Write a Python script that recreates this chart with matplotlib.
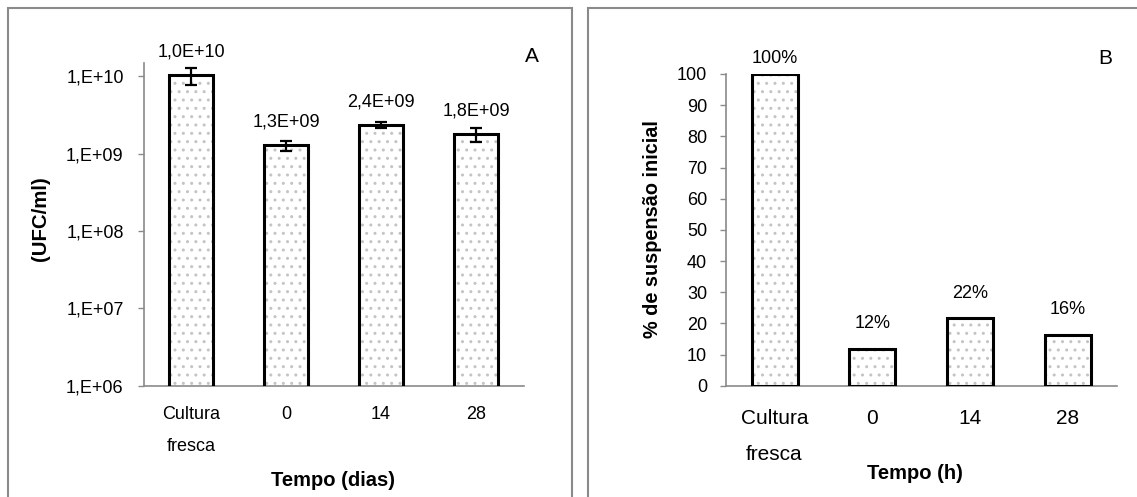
import math
import matplotlib
matplotlib.use("Agg")
import matplotlib.pyplot as plt
from matplotlib.patches import Rectangle
from matplotlib.ticker import FixedLocator, FuncFormatter, NullLocator

plt.rcParams['font.family'] = ['Liberation Sans', 'DejaVu Sans']
plt.rcParams['hatch.linewidth'] = 1.0

# dados
categorias = ["Cultura\nfresca", "0", "14", "28"]
ufc_ml = [1.04e10, 1.28e9, 2.36e9, 1.79e9]
ufc_erro = [2.6e9, 0.18e9, 0.22e9, 0.36e9]
perc_susp = [100, 11.8, 21.6, 16.4]

W, H = 1137, 497
fig = plt.figure(figsize=(W / 100, H / 100), dpi=100)

cinza = "#8a8a8a"
pontos = "#c4c4c4"


def px(x0, y0, x1, y1):
    # converte pixels (origem no canto superior esquerdo) em fração da figura
    return [x0 / W, 1 - y1 / H, (x1 - x0) / W, (y1 - y0) / H]


# molduras dos dois painéis
fig.patches.append(Rectangle((8 / W, -0.1), (572 - 8) / W, 1.1 - 8 / H,
                             transform=fig.transFigure, fill=False,
                             edgecolor=cinza, lw=1.5))
fig.patches.append(Rectangle((588 / W, -0.1), 0.6, 1.1 - 8 / H,
                             transform=fig.transFigure, fill=False,
                             edgecolor=cinza, lw=1.5))


def barras(ax, x, y, largura, erro=None):
    # fundo pontilhado + contorno preto
    ax.bar(x, y, largura, color="white", edgecolor=pontos, hatch="..",
           linewidth=0, zorder=2)
    ax.bar(x, y, largura, fill=False, edgecolor="black", linewidth=2.2,
           zorder=3)
    if erro is not None:
        ax.errorbar(x, y, yerr=erro, fmt="none", ecolor="black",
                    elinewidth=1.6, capsize=4.5, capthick=1.6, zorder=4)


def estilo(ax):
    for s in ["top", "right"]:
        ax.spines[s].set_visible(False)
    for s in ["left", "bottom"]:
        ax.spines[s].set_color(cinza)
        ax.spines[s].set_linewidth(1.2)
    ax.tick_params(axis="y", colors=cinza, length=4.3, width=1,
                   labelcolor="black", labelsize=13)
    ax.tick_params(axis="x", length=0, labelcolor="black")
    ax.set_xlim(-0.5, 3.5)


def rotulo_eixos(ax, xlabel, xpos, ylabel, ypos):
    ax.set_xlabel(xlabel, fontsize=14.5, fontweight="bold")
    ax.set_ylabel(ylabel, fontsize=14.7, fontweight="bold")
    ax.xaxis.set_label_coords(*xpos)
    ax.yaxis.set_label_coords(*ypos)
    ax.xaxis.label.set_verticalalignment("center")
    ax.yaxis.label.set_verticalalignment("center")


x = list(range(len(categorias)))

# ---- painel A: UFC/ml (escala log)
axA = fig.add_axes(px(143.5, 63.3, 523.5, 385.7))
barras(axA, x, ufc_ml, 0.46, ufc_erro)
axA.set_yscale("log")
axA.set_ylim(1e6, 10 ** 10.17)
axA.yaxis.set_major_locator(FixedLocator([1e6, 1e7, 1e8, 1e9, 1e10]))
axA.yaxis.set_minor_locator(NullLocator())
axA.yaxis.set_major_formatter(
    FuncFormatter(lambda v, p: "1,E+%02d" % round(math.log10(v))))
estilo(axA)
axA.set_xticks(x)
axA.set_xticklabels(categorias, fontsize=13, linespacing=2.13)
axA.tick_params(axis="y", pad=10)
axA.tick_params(axis="x", pad=14.8)
for xi, v in zip(x, ufc_ml):
    m, e = ("%.1E" % v).split("E")
    rot = m.replace(".", ",") + "E" + e
    axA.annotate(rot, (xi, v), xytext=(0, 16.6), textcoords="offset points",
                 ha="center", va="center", fontsize=13)
rotulo_eixos(axA, "Tempo (dias)", (0.499, -0.2925), "(UFC/ml)", (-0.27, 0.519))
fig.text(532 / W, 1 - 57 / H, "A", fontsize=15, ha="center", va="center")

# ---- painel B: % da suspensão inicial
axB = fig.add_axes(px(725.7, 74, 1116.6, 385.7))
barras(axB, x, perc_susp, 0.47)
axB.set_ylim(0, 100)
axB.set_yticks(range(0, 101, 10))
estilo(axB)
axB.set_xticks(x)
axB.set_xticklabels(categorias, fontsize=15, linespacing=2.13)
axB.tick_params(axis="y", pad=9)
axB.tick_params(axis="x", pad=16.5)
for xi, v in zip(x, perc_susp):
    off = 11.5 if v >= 100 else 18
    axB.annotate("%d%%" % round(v), (xi, v), xytext=(0, off),
                 textcoords="offset points", ha="center", va="center",
                 fontsize=13)
rotulo_eixos(axB, "Tempo (h)", (0.483, -0.283),
             "% de suspensão inicial", (-0.1885, 0.503))
axB.yaxis.label.set_fontsize(14.3)
fig.text(1105 / W, 1 - 58 / H, "B", fontsize=15, ha="center", va="center")

fig.savefig("out.png", dpi=100)
